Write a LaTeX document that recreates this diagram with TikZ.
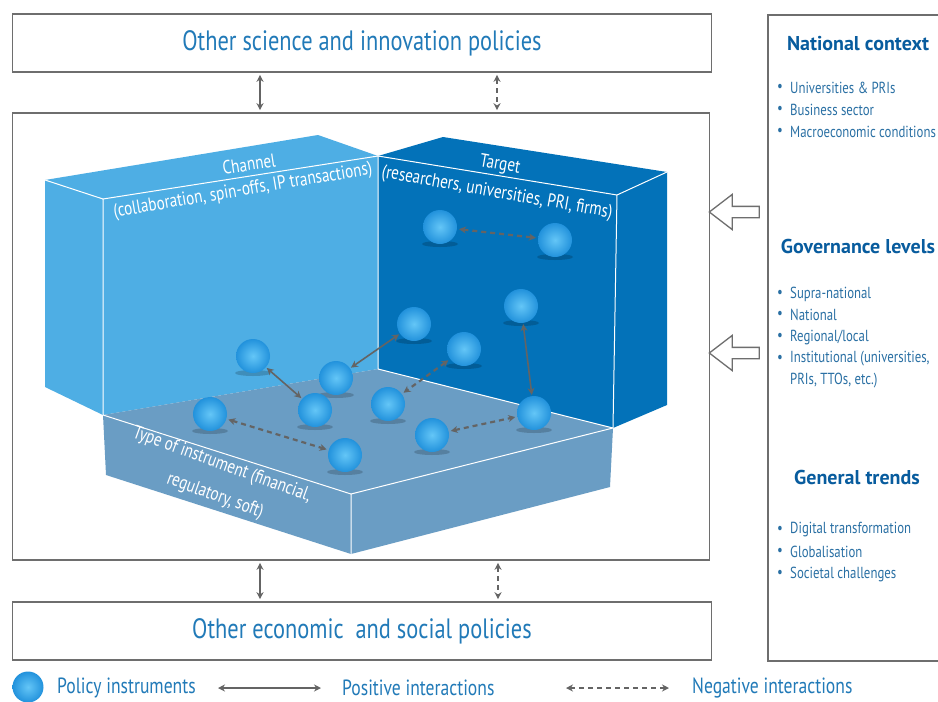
\documentclass[tikz,border=0pt]{standalone}
\usepackage{fontspec}
\setmainfont{PT Sans}[FakeStretch=0.8]
\newfontfamily\headfont{PT Sans}
\usetikzlibrary{arrows.meta,shapes.arrows}

\definecolor{titleblue}{RGB}{33,122,184}
\definecolor{headblue}{RGB}{8,92,158}
\definecolor{textblue}{RGB}{42,112,164}
\definecolor{framegray}{RGB}{110,110,110}
\definecolor{arrowgray}{RGB}{100,100,100}
\definecolor{channelblue}{RGB}{78,174,228}
\definecolor{targetblue}{RGB}{3,114,185}
\definecolor{floorblue}{RGB}{106,157,196}
\definecolor{ballblue}{RGB}{34,146,220}
\definecolor{balllight}{RGB}{100,198,247}

\tikzset{
  policybox/.style={draw=framegray,line width=1.6pt,minimum width=699pt,minimum height=58pt,inner sep=0pt,text=titleblue,font=\fontsize{28}{32}\selectfont},
  ball/.style={circle,minimum size=34pt,inner sep=0pt,inner color=balllight,outer color=ballblue},
  posarrow/.style={{Stealth[length=7pt,width=7pt]}-{Stealth[length=7pt,width=7pt]},line width=1.6pt,draw=arrowgray},
  negarrow/.style={posarrow,line width=2.2pt,dash pattern=on 5pt off 4pt},
  blockarrow/.style={single arrow,shape border rotate=180,draw=framegray,fill=white,line width=1.3pt,
    minimum height=50pt,inner xsep=0pt,inner ysep=5pt,single arrow head extend=12pt,single arrow tip angle=75},
  heading/.style={text=headblue,font=\headfont\bfseries\fontsize{20}{24}\selectfont},
  item/.style={text=textblue,font=\fontsize{16}{18}\selectfont,anchor=west,inner sep=0pt},
  facelabel/.style={text=white,font=\fontsize{19}{22}\selectfont,inner sep=0pt},
  legendtext/.style={text=titleblue,font=\fontsize{22}{26}\selectfont,anchor=west,inner sep=0pt}
}

\begin{document}
\begin{tikzpicture}[x=1pt,y=-1pt]
\clip (0,0) rectangle (938,702);
\fill[white] (0,0) rectangle (938,702);

% policy frames
\node[policybox] (scipol) at (362,43) {Other science and innovation policies};
\node[draw=framegray,line width=1.6pt,minimum width=697pt,minimum height=447pt,inner sep=0pt] (mainbox) at (361,336.5) {};
\node[policybox] (ecopol) at (362,631) {Other economic\ \ and social policies};
\node[draw=framegray,line width=1.6pt,minimum width=190pt,minimum height=646pt,inner sep=0pt,anchor=north west] (context) at (767,14) {};

\draw[posarrow,shorten <=2pt,shorten >=2pt] (scipol.south -| 260,0) -- (mainbox.north -| 260,0);
\draw[negarrow,line width=1.6pt,shorten <=2pt,shorten >=2pt] (scipol.south -| 497,0) -- (mainbox.north -| 497,0);
\draw[posarrow,shorten <=2pt,shorten >=2pt] (mainbox.south -| 260,0) -- (ecopol.north -| 260,0);
\draw[negarrow,line width=1.6pt,shorten <=2pt,shorten >=2pt] (mainbox.south -| 498,0) -- (ecopol.north -| 498,0);

% context arrows
\node[blockarrow] (ctxarrow1) at (738,212) {};
\node[blockarrow] (ctxarrow2) at (738,353) {};

% the 3D box
\fill[channelblue] (45,180) -- (103,199) -- (103,415) -- (45,387) -- cycle;
\fill[channelblue] (45,180) -- (318,135) -- (378,156) -- (103,199) -- cycle;
\fill[channelblue] (103,199) -- (378,156) -- (378,369) -- (103,415) -- cycle;
\fill[targetblue] (378,156) -- (617,195) -- (613,428) -- (378,369) -- cycle;
\fill[targetblue] (378,156) -- (443,137) -- (667,172) -- (617,195) -- cycle;
\fill[targetblue] (617,195) -- (667,172) -- (667,405) -- (613,428) -- cycle;
\fill[floorblue] (103,415) -- (378,369) -- (613,428) -- (351,494) -- cycle;
\fill[floorblue] (103,415) -- (351,494) -- (351,554) -- (106,475) -- cycle;
\fill[floorblue] (351,494) -- (613,428) -- (610,487) -- (351,554) -- cycle;
\draw[white,line width=1pt] (45,180) -- (103,199) -- (378,156) (103,199) -- (103,415)
  (378,156) -- (378,369) -- (613,428) (378,156) -- (617,195) -- (667,172) (617,195) -- (613,428)
  (103,415) -- (351,494) -- (613,428) (351,494) -- (351,554);

\node[facelabel,rotate=8.5] (chan) at (249,164) {Channel};
\node[facelabel,rotate=9.5] (chandesc) at (243,191) {(collaboration, spin-offs, IP transactions)};
\node[facelabel,rotate=-10] (targ) at (500,165) {Target};
\node[facelabel,rotate=-10] (targdesc) at (497,193) {(researchers, universities, PRI, firms)};
\node[facelabel,rotate=-20] (instr1) at (222,465) {Type of instrument (financial,};
\node[facelabel,rotate=-20] (instr2) at (215,496) {regulatory, soft)};

% policy instruments
\foreach \x/\y in {440/227,555/240,253/356,414/324,464/349,521/306,336/378,315/410,210/414,388/404,345/455,432/435,534/413}
  \fill[black,opacity=0.18] (\x,\y+17) ellipse (18pt and 3pt);
\node[ball] (s1) at (440,227) {};
\node[ball] (s2) at (555,240) {};
\node[ball] (s3) at (253,356) {};
\node[ball] (s4) at (414,324) {};
\node[ball] (s5) at (464,349) {};
\node[ball] (s6) at (521,306) {};
\node[ball] (s7) at (336,378) {};
\node[ball] (s8) at (315,410) {};
\node[ball] (s9) at (210,414) {};
\node[ball] (s10) at (388,404) {};
\node[ball] (s11) at (345,455) {};
\node[ball] (s12) at (432,435) {};
\node[ball] (s13) at (534,413) {};

\draw[posarrow,shorten <=1pt,shorten >=1pt] (s3) -- (s8);
\draw[posarrow,shorten <=1pt,shorten >=1pt] (s4) -- (s7);
\draw[posarrow,shorten <=1pt,shorten >=1pt] (s6) -- (s13);
\draw[negarrow,shorten <=2pt,shorten >=2pt] (s1) -- (s2);
\draw[negarrow,shorten <=2pt,shorten >=2pt] (s5) -- (s10);
\draw[negarrow,shorten <=2pt,shorten >=2pt] (s9) -- (s11);
\draw[negarrow,shorten <=2pt,shorten >=2pt] (s12) -- (s13);

% context panel
\node[heading] (natctx) at (858,44) {National context};
\node[heading] (govlev) at (858,246) {Governance levels};
\node[heading] (gentrd) at (857,477) {General trends};
\foreach \t/\y [count=\i] in {Universities \& PRIs/88,Business sector/110,Macroeconomic conditions/132,
    Supra-national/294,National/315,{Regional/local}/337,{Institutional (universities,}/359,
    Digital transformation/530,Globalisation/552,Societal challenges/574} {
  \node[item] (bul\i) at (777,\y) {•};
  \node[item] (itm\i) at (790,\y) {\t};
}
\node[item] (itmx) at (790,381) {PRIs, TTOs, etc.)};

% legend
\node[ball,minimum size=31pt] (legball) at (28,687) {};
\node[legendtext] (legpol) at (57,688) {Policy instruments};
\coordinate (pos1) at (218,688);
\coordinate (pos2) at (321,688);
\draw[posarrow] (pos1) -- (pos2);
\node[legendtext] (legpos) at (342,688) {Positive interactions};
\coordinate (neg1) at (566,688);
\coordinate (neg2) at (669,688);
\draw[negarrow,line width=1.6pt] (neg1) -- (neg2);
\node[legendtext] (legneg) at (692,688) {Negative interactions};
\end{tikzpicture}
\end{document}
